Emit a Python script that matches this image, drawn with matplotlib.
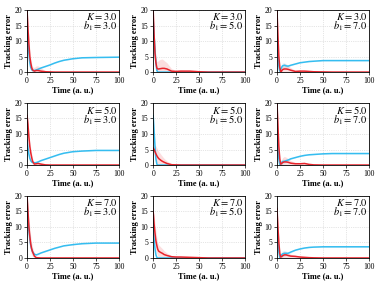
import matplotlib
matplotlib.use("Agg")
import matplotlib.pyplot as plt
import numpy as np

plt.rcParams['font.family'] = ['Liberation Serif', 'DejaVu Serif']
plt.rcParams['mathtext.fontset'] = 'stix'

K_values = [3.0, 5.0, 7.0]
b1_values = [3.0, 5.0, 7.0]

t = [0, 1, 2, 3, 4, 5, 6, 8, 10, 12, 15, 20, 25, 30, 35, 40, 50, 60, 75, 100]

# red mean curves (row-major: K=3,5,7 ; b1=3,5,7)
red_mean = [
    [20, 14, 9, 5, 3, 1.5, 0.7, 0.3, 0.5, 0.5, 0.3, 0.1, 0.05, 0, 0, 0, 0, 0, 0, 0],
    [20, 12, 6, 3, 1.3, 1.0, 1.0, 1.1, 1.2, 1.2, 1.0, 0.3, 0.2, 0.3, 0.3, 0.3, 0.1, 0, 0, 0],
    [20, 12, 5, 1.5, 0.2, 0.3, 0.8, 1.0, 1.0, 0.9, 0.6, 0.2, 0.3, 0.3, 0.2, 0.1, 0.05, 0, 0, 0],
    [16, 13, 9, 6, 4, 2.5, 1.2, 0.3, 0.4, 0.5, 0.3, 0.05, 0, 0, 0, 0, 0, 0, 0, 0],
    [5.5, 5.0, 4.3, 3.6, 3.0, 2.5, 2.1, 1.6, 1.2, 0.9, 0.5, 0.1, 0.05, 0, 0, 0, 0, 0, 0, 0],
    [20, 13, 6, 2, 0.3, 0.4, 0.8, 1.0, 1.0, 0.9, 0.6, 0.4, 0.4, 0.5, 0.2, 0.05, 0, 0, 0, 0],
    [20, 15, 10, 7, 4.5, 3, 2, 0.6, 0.1, 0.05, 0, 0, 0, 0, 0, 0, 0, 0, 0, 0],
    [15, 11, 8, 5.5, 4, 2.8, 2.2, 1.8, 1.5, 1.1, 0.8, 0.4, 0.3, 0.3, 0.25, 0.2, 0.1, 0, 0, 0],
    [16, 10, 5, 1.5, 0.3, 0.4, 0.7, 1.0, 1.0, 0.8, 0.6, 0.5, 0.3, 0.2, 0.1, 0.05, 0, 0, 0, 0],
]

# red band half-width
red_spread = [
    [0, 2, 2, 2, 1.5, 1.2, 1.0, 1.2, 1.5, 1.5, 1.0, 0.4, 0.2, 0.1, 0, 0, 0, 0, 0, 0],
    [0, 2, 2, 2, 2, 2.5, 2.8, 3.0, 3.0, 2.5, 2.0, 0.8, 0.3, 0.3, 0.2, 0.2, 0.1, 0, 0, 0],
    [0, 2, 2, 1.5, 1.0, 1.2, 1.5, 1.8, 1.5, 1.2, 0.8, 0.4, 0.3, 0.2, 0.1, 0.1, 0, 0, 0, 0],
    [0, 1.5, 1.5, 1.5, 1.5, 1.2, 1.0, 0.6, 0.6, 0.5, 0.3, 0.1, 0, 0, 0, 0, 0, 0, 0, 0],
    [0, 1.5, 2.0, 2.5, 2.5, 2.5, 2.3, 2.0, 1.6, 1.2, 0.8, 0.4, 0.3, 0.2, 0.2, 0.15, 0.1, 0, 0, 0],
    [0, 2, 2, 1.5, 1.2, 1.2, 1.5, 1.8, 1.5, 1.2, 0.8, 0.5, 0.4, 0.3, 0.1, 0, 0, 0, 0, 0],
    [0, 2, 3, 3, 2.5, 2.0, 1.5, 0.8, 0.3, 0.1, 0, 0, 0, 0, 0, 0, 0, 0, 0, 0],
    [0, 3, 3, 3, 2.5, 2.2, 2.0, 1.8, 1.5, 1.2, 0.8, 0.4, 0.3, 0.2, 0.2, 0.2, 0.1, 0, 0, 0],
    [0, 2, 2, 1.5, 1.0, 1.0, 1.2, 1.2, 1.0, 0.8, 0.6, 0.4, 0.3, 0.2, 0.1, 0, 0, 0, 0, 0],
]

blue_mean = [
    [14, 10, 6, 3, 1.5, 0.8, 0.5, 0.5, 0.7, 0.9, 1.3, 1.8, 2.3, 2.9, 3.4, 3.8, 4.3, 4.6, 4.7, 4.8],
    [17, 12, 7, 3, 0.5, 0, 0, 0, 0, 0, 0, 0, 0, 0, 0, 0, 0, 0, 0, 0],
    [11, 6, 2, 0.3, 0.8, 1.5, 2.0, 2.2, 2.0, 1.9, 2.2, 2.6, 3.0, 3.2, 3.4, 3.5, 3.7, 3.7, 3.7, 3.7],
    [8, 5.5, 3.5, 2.2, 1.4, 1.0, 0.8, 0.7, 0.8, 1.0, 1.4, 1.9, 2.4, 2.9, 3.4, 3.8, 4.3, 4.5, 4.7, 4.7],
    [16, 11, 6, 2, 0.3, 0, 0, 0, 0, 0, 0, 0, 0, 0, 0, 0, 0, 0, 0, 0],
    [9, 5, 2, 0.2, 0.4, 0.8, 1.1, 1.2, 1.4, 1.6, 2.0, 2.4, 2.8, 3.1, 3.3, 3.4, 3.6, 3.7, 3.7, 3.7],
    [17, 13, 9, 6, 4, 2.8, 2.0, 1.2, 1.0, 1.2, 1.6, 2.1, 2.6, 3.1, 3.5, 3.9, 4.3, 4.6, 4.8, 4.8],
    [10, 6, 3, 1, 0.2, 0, 0, 0, 0, 0, 0, 0, 0, 0, 0, 0, 0, 0, 0, 0],
    [11, 6, 2, 0.2, 0.6, 1.0, 1.3, 1.5, 1.5, 1.5, 1.9, 2.5, 2.9, 3.2, 3.4, 3.5, 3.6, 3.6, 3.6, 3.6],
]

blue_spread = [
    [0, 0.5, 0.5, 0.5, 0.4, 0.3, 0.3, 0.3, 0.3, 0.2, 0.2, 0.1, 0.1, 0.1, 0.1, 0.1, 0.1, 0.1, 0.1, 0.1],
    [0, 0.5, 0.5, 0.4, 0.2, 0, 0, 0, 0, 0, 0, 0, 0, 0, 0, 0, 0, 0, 0, 0],
    [0, 0.5, 0.6, 0.6, 0.8, 1.0, 1.0, 0.8, 0.6, 0.4, 0.2, 0.1, 0.1, 0.1, 0.1, 0.1, 0.1, 0.1, 0.1, 0.1],
    [0, 0.5, 0.5, 0.4, 0.3, 0.3, 0.3, 0.2, 0.2, 0.2, 0.1, 0.1, 0.1, 0.1, 0.1, 0.1, 0.1, 0.1, 0.1, 0.1],
    [0, 0.5, 0.5, 0.4, 0.2, 0, 0, 0, 0, 0, 0, 0, 0, 0, 0, 0, 0, 0, 0, 0],
    [0, 0.5, 0.5, 0.5, 0.6, 0.8, 0.8, 0.6, 0.5, 0.4, 0.2, 0.1, 0.1, 0.1, 0.1, 0.1, 0.1, 0.1, 0.1, 0.1],
    [0, 0.6, 0.6, 0.5, 0.4, 0.3, 0.3, 0.3, 0.2, 0.2, 0.1, 0.1, 0.1, 0.1, 0.1, 0.1, 0.1, 0.1, 0.1, 0.1],
    [0, 0.5, 0.5, 0.4, 0.2, 0, 0, 0, 0, 0, 0, 0, 0, 0, 0, 0, 0, 0, 0, 0],
    [0, 0.5, 0.6, 0.6, 0.8, 1.0, 1.0, 0.9, 0.7, 0.5, 0.3, 0.1, 0.1, 0.1, 0.1, 0.1, 0.1, 0.1, 0.1, 0.1],
]

x_ticks = [0, 25, 50, 75, 100]
y_ticks = [0, 5, 10, 15, 20]

RED = '#e8232b'
BLUE = '#35bdf0'

fig = plt.figure(figsize=(3.81, 2.86), dpi=100)
lefts = [0.071, 0.402, 0.727]
bottoms = [0.748, 0.423, 0.098]
w, h = 0.241, 0.217

tt = np.array(t, dtype=float)
for i, K in enumerate(K_values):
    for j, b1 in enumerate(b1_values):
        k = i * 3 + j
        ax = fig.add_axes([lefts[j], bottoms[i], w, h])
        rm = np.array(red_mean[k]); rs = np.array(red_spread[k])
        bm = np.array(blue_mean[k]); bs = np.array(blue_spread[k])
        ax.fill_between(tt, np.clip(bm - bs, 0, None), bm + bs, color=BLUE, alpha=0.15, lw=0)
        ax.fill_between(tt, np.clip(rm - rs, 0, None), rm + rs, color=RED, alpha=0.15, lw=0)
        ax.plot(tt, bm, color=BLUE, lw=1.1)
        ax.plot(tt, rm, color=RED, lw=1.1)
        ax.set_xlim(0, 100)
        ax.set_ylim(0, 20)
        ax.set_xticks(x_ticks)
        ax.set_yticks(y_ticks)
        ax.grid(True, color='#cccccc', lw=0.5, ls=':')
        ax.tick_params(labelsize=5.5, length=2, width=0.5, pad=1.5)
        for s in ax.spines.values():
            s.set_linewidth(0.6)
        ax.set_xlabel('Time (a. u.)', fontsize=6, fontweight='bold', labelpad=1)
        ax.set_ylabel('Tracking error', fontsize=6, fontweight='bold', labelpad=1)
        ax.text(0.985, 0.985, '$K = %.1f$\n$b_1 = %.1f$' % (K, b1), transform=ax.transAxes,
                ha='right', va='top', fontsize=7.5, linespacing=0.75)

fig.savefig('out.png', dpi=100)
